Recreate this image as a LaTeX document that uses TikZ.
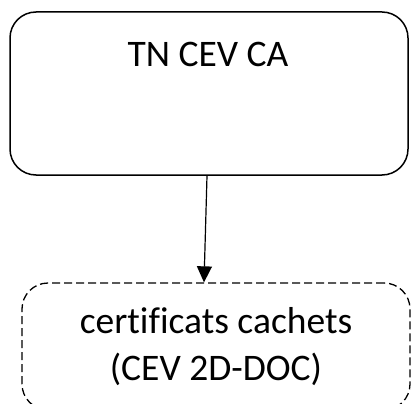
\documentclass[tikz,border=0pt]{standalone}
\usepackage{fontspec}
\setmainfont[Ligatures=NoCommon]{Carlito}
\usetikzlibrary{arrows.meta}

\begin{document}
\begin{tikzpicture}[x=1pt,y=-1pt]
      \useasboundingbox (0,0) rectangle (411,403);
      \node[draw, line width=1.5pt, rounded corners=26pt, minimum width=398pt, minimum height=163pt] (ca) at (209,93.5) {};
      \node[font=\fontsize{37.5}{45}\selectfont] (catext) at (208,54) {TN CEV CA};
      \node[draw, dashed, dash pattern=on 8pt off 4pt, line width=1.3pt, rounded corners=26pt, minimum width=388pt, minimum height=127pt, align=center, font=\fontsize{37.5}{47}\selectfont] (cert) at (216,346.5) {certificats cachets\\(CEV 2D-DOC)};
      \draw[line width=1.2pt, -{Triangle[width=15pt,length=16pt]}] (ca.south) ++(-2,0) -- ([xshift=-12pt]cert.north);
    \end{tikzpicture}
\end{document}
